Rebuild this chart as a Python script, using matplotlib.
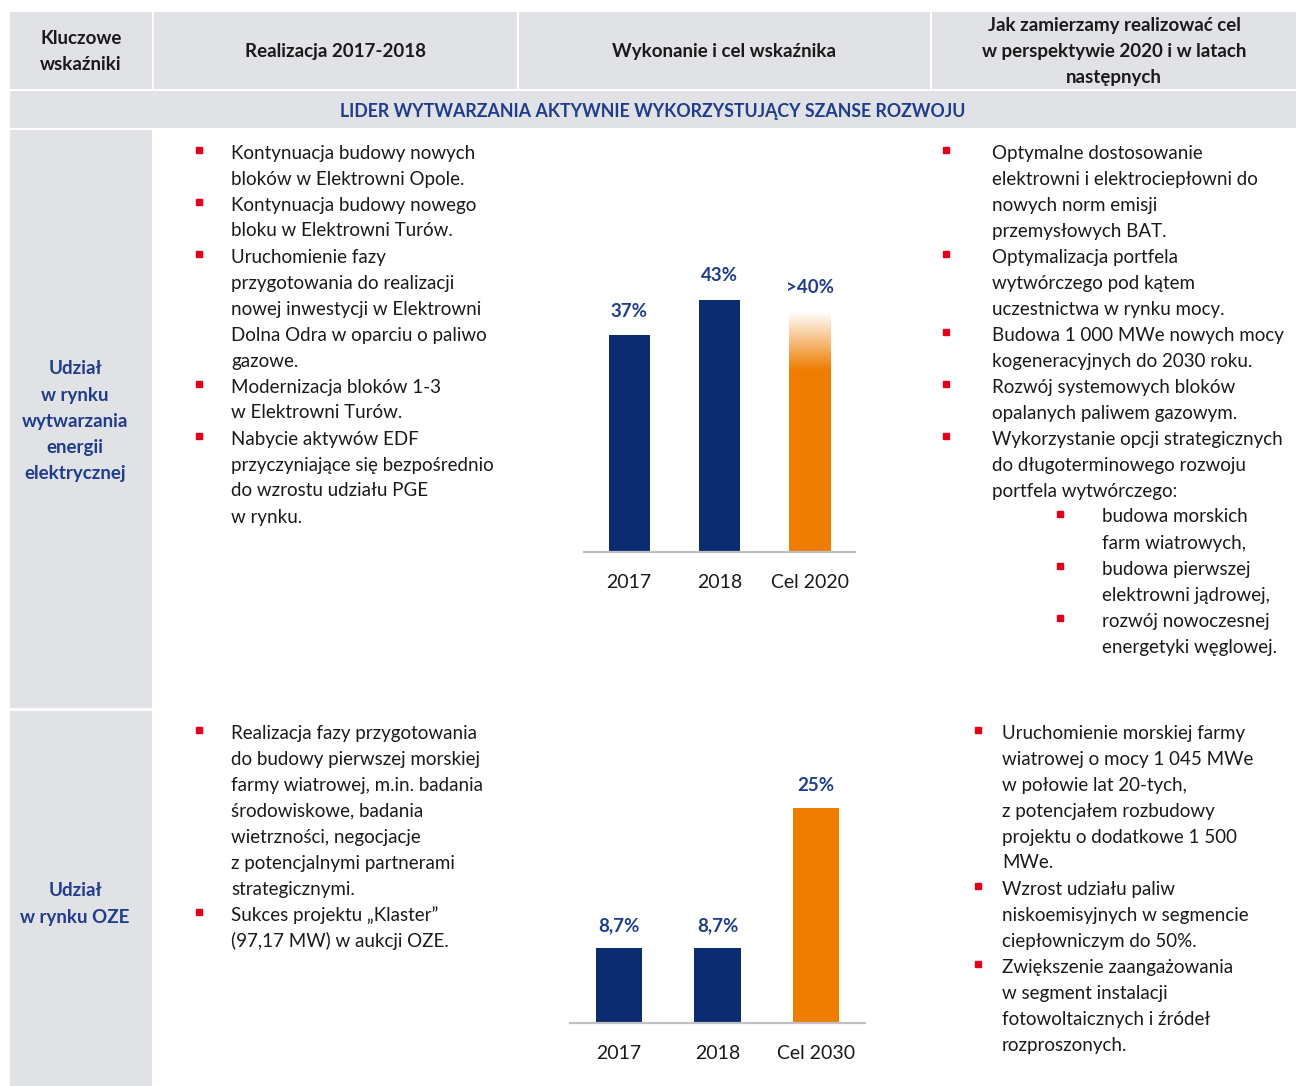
import numpy as np
import matplotlib.pyplot as plt
from matplotlib.patches import Rectangle

plt.rcParams['font.family'] = ['Lato', 'DejaVu Sans']

W, H = 1296, 1086

# --- data ---
header_labels = ["Kluczowe\nwskaźniki", "Realizacja 2017-2018",
                 "Wykonanie i cel wskaźnika",
                 "Jak zamierzamy realizować cel\nw perspektywie 2020 i w latach\nnastępnych"]
section_title = "LIDER WYTWARZANIA AKTYWNIE WYKORZYSTUJĄCY SZANSE ROZWOJU"
row_labels = ["Udział\nw rynku\nwytwarzania\nenergii\nelektrycznej", "Udział\nw rynku OZE"]

cats_1 = ["2017", "2018", "Cel 2020"]
vals_1 = [37, 43, 40]
lbls_1 = ["37%", "43%", ">40%"]

cats_2 = ["2017", "2018", "Cel 2030"]
vals_2 = [8.7, 8.7, 25]
lbls_2 = ["8,7%", "8,7%", "25%"]

left_1 = [
    ["Kontynuacja budowy nowych", "bloków w Elektrowni Opole."],
    ["Kontynuacja budowy nowego", "bloku w Elektrowni Turów."],
    ["Uruchomienie fazy", "przygotowania do realizacji", "nowej inwestycji w Elektrowni",
     "Dolna Odra w oparciu o paliwo", "gazowe."],
    ["Modernizacja bloków 1-3", "w Elektrowni Turów."],
    ["Nabycie aktywów EDF", "przyczyniające się bezpośrednio", "do wzrostu udziału PGE", "w rynku."],
]
right_1 = [
    ["Optymalne dostosowanie", "elektrowni i elektrociepłowni do", "nowych norm emisji",
     "przemysłowych BAT."],
    ["Optymalizacja portfela", "wytwórczego pod kątem", "uczestnictwa w rynku mocy."],
    ["Budowa 1 000 MWe nowych mocy", "kogeneracyjnych do 2030 roku."],
    ["Rozwój systemowych bloków", "opalanych paliwem gazowym."],
    ["Wykorzystanie opcji strategicznych", "do długoterminowego rozwoju",
     "portfela wytwórczego:"],
]
right_1_sub = [
    ["budowa morskich", "farm wiatrowych,"],
    ["budowa pierwszej", "elektrowni jądrowej,"],
    ["rozwój nowoczesnej", "energetyki węglowej."],
]
left_2 = [
    ["Realizacja fazy przygotowania", "do budowy pierwszej morskiej",
     "farmy wiatrowej, m.in. badania", "środowiskowe, badania", "wietrzności, negocjacje",
     "z potencjalnymi partnerami", "strategicznymi."],
    ["Sukces projektu „Klaster”", "(97,17 MW) w aukcji OZE."],
]
right_2 = [
    ["Uruchomienie morskiej farmy", "wiatrowej o mocy 1 045 MWe", "w połowie lat 20-tych,",
     "z potencjałem rozbudowy", "projektu o dodatkowe 1 500", "MWe."],
    ["Wzrost udziału paliw", "niskoemisyjnych w segmencie", "ciepłowniczym do 50%."],
    ["Zwiększenie zaangażowania", "w segment instalacji", "fotowoltaicznych i źródeł",
     "rozproszonych."],
]

GREY = '#e1e2e6'
NAVY = '#0b2c70'
ORANGE = '#ee7d00'
LBLUE = '#1f3d8c'
RED = '#e2001a'
TXT = '#1a1a1a'
FS = 13.5
LH = 26

fig = plt.figure(figsize=(W / 100, H / 100), dpi=100)
bg = fig.add_axes([0, 0, 1, 1])
bg.set_xlim(0, W)
bg.set_ylim(H, 0)
bg.axis('off')


def lines_centered(x, yc, txt, **kw):
    parts = txt.split('\n')
    y0 = yc - (len(parts) - 1) * LH / 2
    for k, p in enumerate(parts):
        bg.text(x, y0 + k * LH + 2, p, ha='center', va='center', fontsize=FS, **kw)


# header cells
cols = [(10, 152), (154, 517), (519, 930), (932, 1296)]
for (x0, x1), lab in zip(cols, header_labels):
    bg.add_patch(Rectangle((x0, 12), x1 - x0, 77, color=GREY, lw=0))
    lines_centered((x0 + x1) / 2, 50, lab, fontweight='bold', color=TXT)
bg.add_patch(Rectangle((10, 91), W - 10, 37, color=GREY, lw=0))
bg.text(653, 111, section_title, ha='center', va='center', fontsize=12.8,
        fontweight='bold', color=LBLUE)

# row label cells
bg.add_patch(Rectangle((10, 130), 142, 578, color=GREY, lw=0))
bg.add_patch(Rectangle((10, 711), 142, 375, color=GREY, lw=0))
lines_centered(75, 419, row_labels[0], fontweight='bold', color=LBLUE)
lines_centered(75, 902, row_labels[1], fontweight='bold', color=LBLUE)


def bullets(items, bx, tx, y):
    for lines in items:
        bg.plot(bx, y - 1, marker='s', ms=5, color=RED, ls='none')
        for ln in lines:
            bg.text(tx, y + 2, ln, ha='left', va='center', fontsize=FS, color=TXT)
            y += LH
    return y


bullets(left_1, 199, 231, 151)
y = bullets(right_1, 946, 992, 151)
bullets(right_1_sub, 1060, 1102, y)
bullets(left_2, 199, 231, 731)
bullets(right_2, 978, 1002, 731)


def px_axes(x0, x1, ybase, ytop):
    return fig.add_axes([x0 / W, 1 - ybase / H, (x1 - x0) / W, (ybase - ytop) / H])


def style(ax, cats, ymax):
    ax.set_xlim(-0.5, 2.5)
    ax.set_ylim(0, ymax)
    for s in ['left', 'right', 'top']:
        ax.spines[s].set_visible(False)
    ax.spines['bottom'].set_color('#c0c0c0')
    ax.spines['bottom'].set_linewidth(1.6)
    ax.set_yticks([])
    ax.set_xticks(range(len(cats)), cats)
    ax.tick_params(axis='x', length=0, pad=15.5, labelsize=FS + 0.5, labelcolor=TXT)
    ax.patch.set_alpha(0)


# chart 1
ax1 = px_axes(584, 855, 552, 260)
style(ax1, cats_1, (552 - 260) / 5.87)
bars = ax1.bar(range(3), vals_1, width=0.455, color=[NAVY, NAVY, 'none'])
b = bars[2]
fade_top = vals_1[2] + 1
n = 200
yy = np.linspace(0, fade_top, n)
alpha = np.clip((fade_top - yy) / (fade_top - 31), 0, 1)
img = np.zeros((n, 1, 4))
img[..., :3] = np.array([0xee, 0x7d, 0x00]) / 255
img[:, 0, 3] = alpha
ax1.imshow(img, extent=[b.get_x(), b.get_x() + b.get_width(), 0, fade_top],
           origin='lower', aspect='auto', zorder=2)
ax1.set_xlim(-0.5, 2.5)
ax1.set_ylim(0, (552 - 260) / 5.87)
for i, (v, l) in enumerate(zip(vals_1, lbls_1)):
    top = fade_top if i == 2 else v
    ax1.annotate(l, (i, top), xytext=(0, 17), textcoords='offset points',
                 ha='center', va='center', fontsize=FS, fontweight='bold', color=LBLUE)

# chart 2
ax2 = px_axes(570, 865, 1023, 770)
style(ax2, cats_2, (1023 - 770) / 8.6)
ax2.bar(range(3), vals_2, width=0.47, color=[NAVY, NAVY, ORANGE])
for i, (v, l) in enumerate(zip(vals_2, lbls_2)):
    ax2.annotate(l, (i, v), xytext=(0, 16), textcoords='offset points',
                 ha='center', va='center', fontsize=FS, fontweight='bold', color=LBLUE)

fig.savefig('out.png', dpi=100)
